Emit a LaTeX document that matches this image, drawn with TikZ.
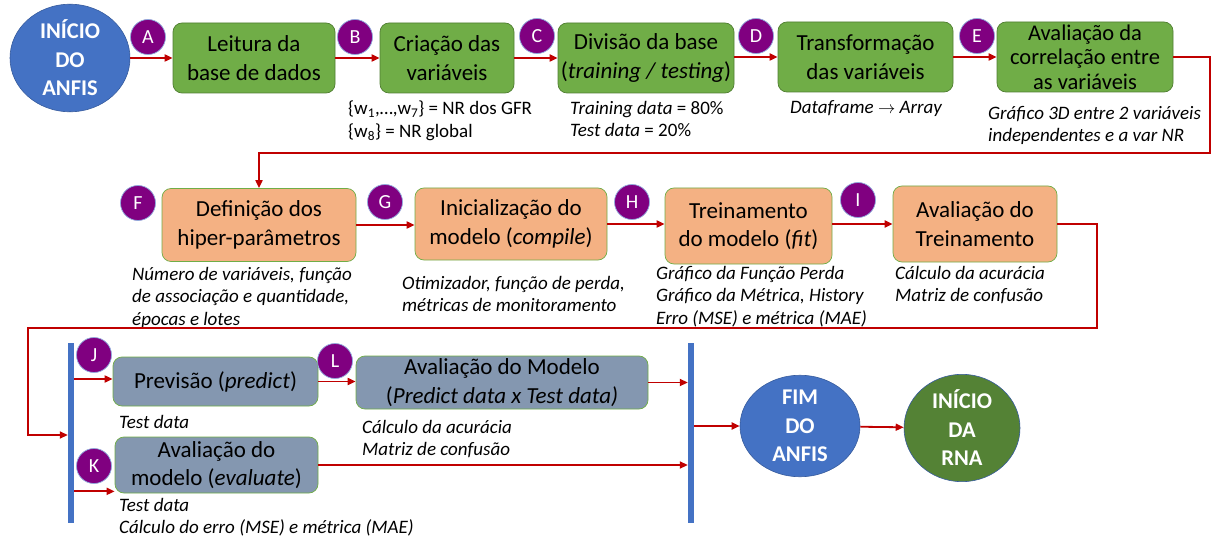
\documentclass[tikz,border=0pt]{standalone}
\usepackage{fontspec}
\setmainfont{Carlito}
\usetikzlibrary{arrows.meta,shapes.geometric,calc}
\definecolor{startblue}{HTML}{4472C4}
\definecolor{rnagreen}{HTML}{548235}
\definecolor{stepgreen}{HTML}{70AD47}
\definecolor{stepgreenline}{HTML}{507E32}
\definecolor{steporange}{HTML}{F4B183}
\definecolor{stepslate}{HTML}{8497B0}
\definecolor{tagpurple}{HTML}{800080}
\definecolor{tagring}{HTML}{8FAADC}
\definecolor{flowred}{HTML}{C00000}
\begin{document}
\begin{tikzpicture}[x=1pt,y=-1pt,
  terminal/.style={ellipse, draw=startblue!80!black, line width=0.6pt, text=white,
    font=\fontsize{22.5}{28.5}\selectfont\bfseries, align=center, inner sep=0pt,
    minimum width=120pt, minimum height=99pt},
  basebox/.style={rounded corners=9pt, line width=0.7pt, align=center, inner sep=2pt,
    font=\fontsize{23}{28.5}\selectfont},
  greenbox/.style={basebox, fill=stepgreen, draw=stepgreenline},
  orangebox/.style={basebox, fill=steporange, draw=stepgreen},
  slatebox/.style={basebox, fill=stepslate, draw=stepgreen},
  tag/.style={circle, fill=tagpurple, draw=tagring, line width=0.7pt, text=white,
    minimum size=35pt, inner sep=0pt, font=\fontsize{20}{20}\selectfont},
  note/.style={anchor=north west, align=left, inner sep=0pt,
    font=\fontsize{19}{22.5}\selectfont},
  bar/.style={fill=startblue, inner sep=0pt, minimum width=6pt, minimum height=180pt},
  flow/.style={draw=flowred, line width=1.8pt, -{Triangle[length=8pt,width=7pt]}}
]
\useasboundingbox (0,0) rectangle (1214,537);

% ---------- first row: data preparation ----------
\node[terminal, fill=startblue] (start) at (70,58) {INÍCIO\\DO\\ANFIS};
\node[greenbox, minimum width=162pt, minimum height=70pt] (leitura) at (254,58) {Leitura da\\base de dados};
\node[greenbox, minimum width=134pt, minimum height=70pt] (criacao) at (447,58) {Criação das\\variáveis};
\node[greenbox, minimum width=176pt, minimum height=70pt] (divisao) at (646,58) {Divisão da base\\(\textit{training / testing})};
\node[greenbox, minimum width=175pt, minimum height=70pt] (transf) at (865.5,57) {Transformação\\das variáveis};
\node[greenbox, minimum width=176pt, minimum height=70pt, font=\fontsize{22.5}{24.5}\selectfont] (correl) at (1085,57) {Avaliação da\\correlação entre\\as variáveis};

\node[tag] (tA) at (148,37) {A};
\node[tag] (tB) at (355,37) {B};
\node[tag] (tC) at (537,36) {C};
\node[tag] (tD) at (756,36) {D};
\node[tag] (tE) at (977,36) {E};

\draw[flow] (start) -- (leitura);
\draw[flow] (leitura) -- (criacao);
\draw[flow] (criacao) -- (divisao);
\draw[flow] (divisao.east |- transf) -- (transf);
\draw[flow] (transf) -- (correl);

\node[note] (nB) at (348,101) {\{w\textsubscript{1},…,w\textsubscript{7}\} = NR dos GFR\\\{w\textsubscript{8}\} = NR global};
\node[note] (nC) at (570,101) {\textit{Training data} = 80\%\\\textit{Test data} = 20\%};
\node[note] (nD) at (790,100) {\textit{Dataframe} $\rightarrow$ \textit{Array}};
\node[note] (nE) at (988,106) {\itshape Gráfico 3D entre 2 variáveis\\\itshape independentes e a var NR};

% ---------- second row: model training ----------
\node[orangebox, minimum width=194pt, minimum height=73pt] (defin) at (259,225) {Definição dos\\hiper-parâmetros};
\node[orangebox, minimum width=192pt, minimum height=72pt] (inicia) at (511,224) {Inicialização do\\modelo (\textit{compile})};
\node[orangebox, minimum width=167pt, minimum height=76pt] (treino) at (748.5,226) {Treinamento\\do modelo (\textit{fit})};
\node[orangebox, minimum width=164pt, minimum height=76pt] (avtrein) at (975,224) {Avaliação do\\Treinamento};

\node[tag] (tF) at (138,203) {F};
\node[tag] (tG) at (385,202) {G};
\node[tag] (tH) at (632,202) {H};
\node[tag] (tI) at (858,200) {I};

\coordinate (turn1) at (1210,153);
\draw[flow] (correl.east) -| (turn1) -| (defin.north);
\draw[flow] (defin.east) -- (inicia.west |- defin.east);
\draw[flow] (inicia.east) -- (treino.west |- inicia.east);
\draw[flow] (treino.east |- avtrein.east) -- (avtrein.west);

\node[note] (nF) at (132,267) {\itshape Número de variáveis, função\\\itshape de associação e quantidade,\\\itshape épocas e lotes};
\node[note] (nG) at (402,276) {\itshape Otimizador, função de perda,\\\itshape métricas de monitoramento};
\node[note] (nH) at (656,266) {\itshape Gráfico da Função Perda\\\itshape Gráfico da Métrica, History\\\itshape Erro (MSE) e métrica (MAE)};
\node[note] (nI) at (895,266) {\itshape Cálculo da acurácia\\\itshape Matriz de confusão};

% ---------- third row: evaluation and end ----------
\node[bar] (lbar) at (71,433) {};
\node[bar] (rbar) at (691,433) {};

\node[slatebox, minimum width=205pt, minimum height=49pt] (previsao) at (215.5,381.5) {Previsão (\textit{predict})};
\node[slatebox, minimum width=292pt, minimum height=53pt] (avmodelo) at (502,382.5) {Avaliação do Modelo\\(\textit{Predict data x Test data)}};
\node[slatebox, minimum width=203pt, minimum height=56pt] (evaluate) at (216.5,465) {Avaliação do\\modelo (\textit{evaluate})};

\node[tag] (tJ) at (94,355) {J};
\node[tag] (tK) at (94,466) {K};
\node[tag] (tL) at (335,361) {L};

\node[terminal, fill=startblue] (fim) at (800,426) {FIM\\DO\\ANFIS};
\node[terminal, fill=rnagreen, minimum width=116pt] (rna) at (962,428) {INÍCIO\\DA\\RNA};

\coordinate (turn2) at (1097,328);
\coordinate (turn3) at (28,435);
\draw[flow] (avtrein.east) -| (turn2) -| (turn3) -- (lbar.west |- turn3);
\draw[flow] (lbar.east |- 0,379) -- (previsao.west |- 0,379);
\draw[flow] (lbar.east |- evaluate.south) ++(0,-2) -- ([yshift=2pt]evaluate.south west);
\draw[flow] (previsao) -- (avmodelo.west |- previsao);
\draw[flow] (avmodelo) -- (rbar.west |- avmodelo);
\draw[flow] (evaluate) -- (rbar.west |- evaluate);
\draw[flow] (rbar.east |- fim) -- (fim);
\draw[flow] (fim) -- (rna);

\node[note] (nJ) at (119,415) {\itshape Test data};
\node[note] (nL) at (362,420) {\itshape Cálculo da acurácia\\\itshape Matriz de confusão};
\node[note] (nK) at (119,498) {\itshape Test data\\\itshape Cálculo do erro (MSE) e métrica (MAE)};
\end{tikzpicture}
\end{document}
